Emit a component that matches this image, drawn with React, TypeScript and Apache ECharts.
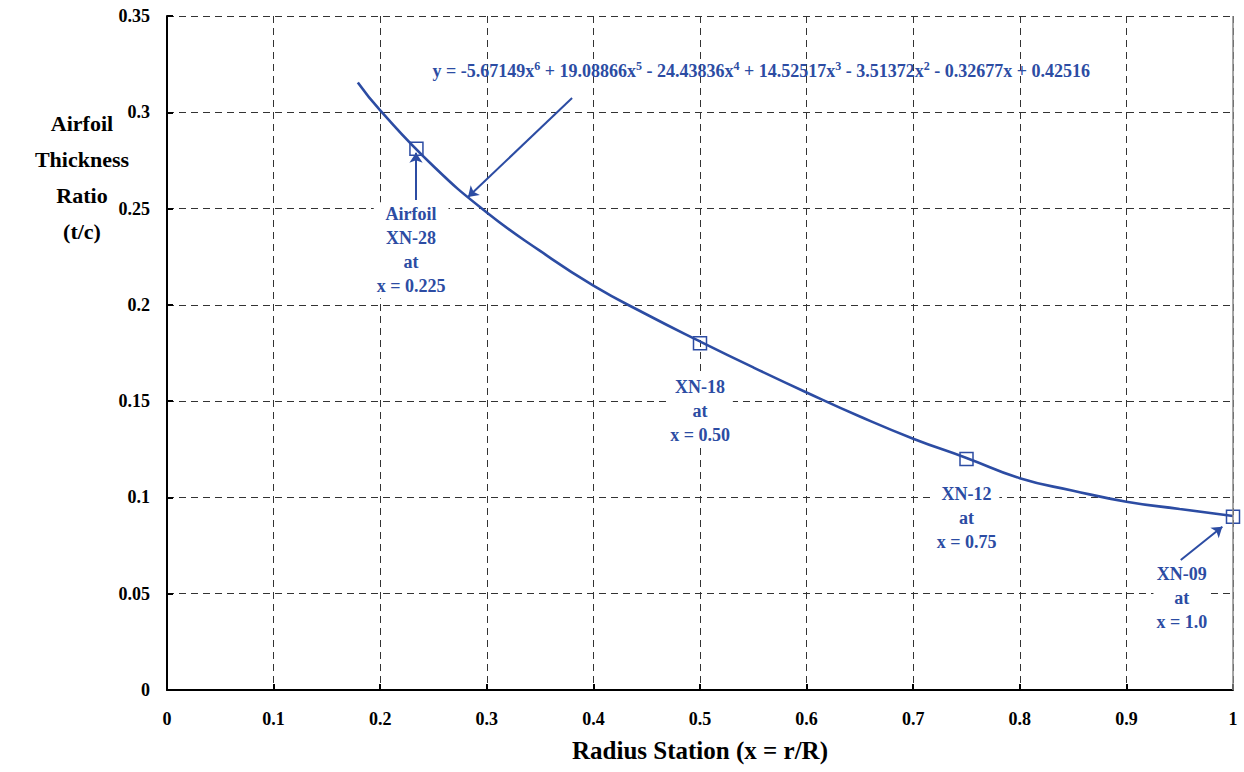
import React, { useEffect, useRef } from "react";
import * as echarts from "echarts";

// Trendline
const curveX = [0.179, 0.2, 0.25, 0.3, 0.35, 0.4, 0.45, 0.5, 0.55, 0.6, 0.65, 0.7, 0.75, 0.8, 0.85, 0.9, 0.95, 1.0];
const curveY = [0.3155, 0.301, 0.272, 0.248, 0.228, 0.21, 0.195, 0.181, 0.1675, 0.1545, 0.142, 0.1305, 0.1205, 0.11, 0.1035, 0.0978, 0.094, 0.0904];

// Airfoil markers
const markerX = [0.234, 0.5, 0.75, 1.0];
const markerY = [0.281, 0.18, 0.12, 0.09];

// Annotation labels (anchored at their top centre)
const labelTexts = ["Airfoil\nXN-28\nat\nx = 0.225", "XN-18\nat\nx = 0.50", "XN-12\nat\nx = 0.75", "XN-09\nat\nx = 1.0"];
const labelX = [0.229, 0.5, 0.75, 0.952];
const labelY = [0.2535, 0.164, 0.1085, 0.0665];

// Arrows
const arrowFromX = [0.38, 0.2336, 0.951];
const arrowFromY = [0.3074, 0.2545, 0.0675];
const arrowToX = [0.2824, 0.2336, 0.99];
const arrowToY = [0.256, 0.279, 0.0848];

// Equation
const eqX = 0.2486;
const eqY = 0.3214;
const eqParts: [string, string][] = [
  ["y = -5.67149x", "6"],
  [" + 19.08866x", "5"],
  [" - 24.43836x", "4"],
  [" + 14.52517x", "3"],
  [" - 3.51372x", "2"],
  [" - 0.32677x + 0.42516", ""],
];

const yTitle = "Airfoil\nThickness\nRatio\n(t/c)";
const xTitle = "Radius Station (x = r/R)";

const BLUE = "#2c4ca3";
const FONT = "Liberation Serif";

export default function App() {
  const ref = useRef<HTMLDivElement>(null);
  useEffect(() => {
    if (!ref.current) return;
    const chart = echarts.init(ref.current, undefined, { renderer: "svg" });
    const eqText = eqParts.map(([a, s]) => `{m|${a}}` + (s ? `{s|${s}}` : "")).join("");
    chart.setOption({
      animation: false,
      backgroundColor: "#fff",
      grid: { left: 167, right: 11, top: 16, bottom: 82, containLabel: false },
      xAxis: {
        type: "value",
        min: 0,
        max: 1,
        interval: 0.1,
        name: xTitle,
        nameLocation: "middle",
        nameGap: 48,
        nameTextStyle: { fontFamily: FONT, fontWeight: "bold", fontSize: 25, color: "#000" },
        axisLine: { show: true, onZero: false, lineStyle: { color: "#000", width: 2 } },
        axisTick: { show: true, inside: true, length: 6, lineStyle: { color: "#000", width: 2 } },
        axisLabel: { fontFamily: FONT, fontWeight: "bold", fontSize: 18, color: "#000", margin: 20 },
        splitLine: { show: true, lineStyle: { color: "#333", type: [7, 5], width: 1 } },
      },
      yAxis: {
        type: "value",
        min: 0,
        max: 0.35,
        interval: 0.05,
        axisLine: { show: true, onZero: false, lineStyle: { color: "#000", width: 2 } },
        axisTick: { show: true, inside: true, length: 6, lineStyle: { color: "#000", width: 2 } },
        axisLabel: { fontFamily: FONT, fontWeight: "bold", fontSize: 18, color: "#000", margin: 17 },
        splitLine: { show: true, lineStyle: { color: "#333", type: [7, 5], width: 1 } },
      },
      graphic: [
        {
          type: "text",
          x: 82,
          y: 105,
          style: {
            text: yTitle,
            fontFamily: FONT,
            fontWeight: "bold",
            fontSize: 22,
            lineHeight: 36,
            textAlign: "center",
            textVerticalAlign: "top",
            fill: "#000",
          },
        },
      ],
      series: [
        {
          type: "line",
          data: curveX.map((x, i) => [x, curveY[i]]),
          smooth: 0.5,
          showSymbol: false,
          symbol: "none",
          lineStyle: { color: BLUE, width: 2.6 },
          silent: true,
          z: 3,
          markLine: {
            silent: true,
            symbol: "none",
            label: { show: false },
            lineStyle: { color: "#888", type: "solid", width: 1.5 },
            data: [{ xAxis: 1 }],
          },
        },
        {
          type: "scatter",
          data: markerX.map((x, i) => [x, markerY[i]]),
          symbol: "rect",
          symbolSize: 13,
          itemStyle: { color: "transparent", borderColor: BLUE, borderWidth: 1.5, opacity: 1 },
          z: 4,
        },
        {
          type: "scatter",
          data: labelX.map((x, i) => ({ value: [x, labelY[i]], label: { formatter: labelTexts[i] } })),
          symbolSize: 1,
          itemStyle: { color: "transparent", opacity: 1 },
          label: {
            show: true,
            position: "bottom",
            distance: 0,
            align: "center",
            fontFamily: FONT,
            fontWeight: "bold",
            fontSize: 18,
            lineHeight: 24,
            color: BLUE,
            backgroundColor: "#fff",
            padding: [0, 3],
            textBorderWidth: 0,
          },
          z: 5,
        },
        {
          type: "scatter",
          data: [[eqX, eqY]],
          symbolSize: 1,
          itemStyle: { color: "transparent", opacity: 1 },
          label: {
            show: true,
            position: "right",
            distance: 0,
            formatter: eqText,
            textBorderWidth: 0,
            rich: {
              m: { fontFamily: FONT, fontWeight: "bold", fontSize: 18, color: BLUE, lineHeight: 22 },
              s: { fontFamily: FONT, fontWeight: "bold", fontSize: 12, color: BLUE, lineHeight: 12, verticalAlign: "top" },
            },
          },
          z: 5,
        },
        {
          type: "lines",
          coordinateSystem: "cartesian2d",
          polyline: false,
          data: arrowFromX.map((x, i) => ({ coords: [[x, arrowFromY[i]], [arrowToX[i], arrowToY[i]]] })),
          symbol: ["none", "arrow"],
          symbolSize: 10,
          lineStyle: { color: BLUE, width: 2, opacity: 1, curveness: 0 },
          z: 6,
        },
      ],
    });
    return () => chart.dispose();
  }, []);
  return <div ref={ref} style={{ width: 1244, height: 772, position: "absolute", left: 0, top: 0 }} />;
}
